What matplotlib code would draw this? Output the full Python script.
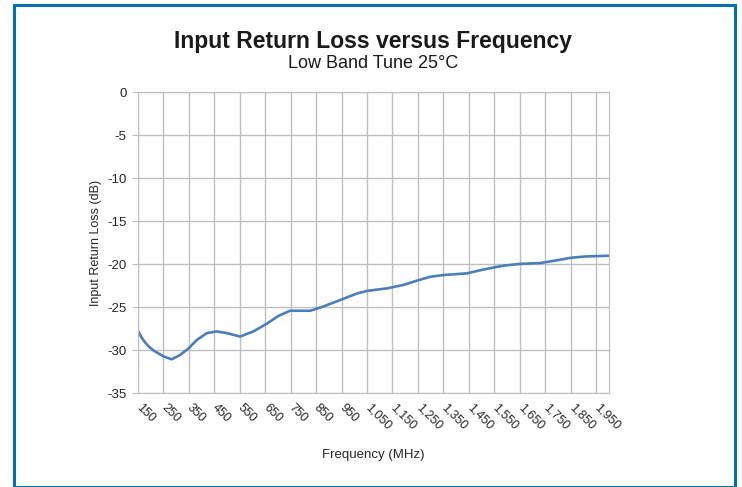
import matplotlib.pyplot as plt
from matplotlib.patches import Rectangle

plt.rcParams['font.family'] = ['Liberation Sans', 'DejaVu Sans']

# Frequency (MHz) and return loss (dB)
freq = [150, 165, 179, 195, 211, 251, 283, 316, 349, 382, 421, 460, 500, 552,
        604, 657, 702, 748, 827, 879, 945, 1010, 1049, 1099, 1128, 1193, 1246,
        1298, 1350, 1442, 1508, 1586, 1652, 1730, 1782, 1848, 1900, 2000]
rl_db = [-27.7, -28.5, -29.1, -29.6, -30.0, -30.7, -31.05, -30.55, -29.8, -28.8,
         -28.0, -27.8, -28.0, -28.4, -27.8, -26.9, -26.0, -25.4, -25.4, -24.9,
         -24.15, -23.4, -23.1, -22.9, -22.8, -22.4, -21.9, -21.45, -21.25,
         -21.05, -20.6, -20.15, -19.95, -19.85, -19.6, -19.25, -19.1, -19.0]

xticks = list(range(150, 2000, 100))
xticklabels = [f"{v:,}" for v in xticks]
yticks = list(range(-35, 1, 5))

fig = plt.figure(figsize=(7.42, 4.87), dpi=100)
ax = fig.add_axes([0.1856, 0.1924, 0.6352, 0.618])

ax.plot(freq, rl_db, color="#4A7EBB", lw=1.9, solid_capstyle="round")

ax.set_xlim(150, 2000)
ax.set_ylim(-35, 0)
ax.set_xticks(xticks)
ax.set_xticklabels(xticklabels, rotation=-45, ha="left", va="center",
                   rotation_mode="anchor", fontsize=9, color="#262626")
ax.set_yticks(yticks)
ax.set_yticklabels([str(v) for v in yticks], fontsize=9.5, color="#262626")
ax.tick_params(axis="x", length=0, pad=9)
ax.tick_params(axis="y", length=4, color="#BFBFBF", pad=4)
ax.grid(True, color="#BFBFBF", lw=1)
for s in ax.spines.values():
    s.set_color("#BFBFBF")

ax.set_xlabel("Frequency (MHz)", fontsize=9.5, labelpad=12, color="#262626")
ax.set_ylabel("Input Return Loss (dB)", fontsize=9, labelpad=4, color="#262626")

fig.text(0.503, 0.915, "Input Return Loss versus Frequency", ha="center",
         va="center", fontsize=16.5, fontweight="bold", color="#1a1a1a")
fig.text(0.503, 0.869, "Low Band Tune 25°C", ha="center", va="center",
         fontsize=13, color="#1a1a1a")

fig.patches.append(Rectangle((13.5 / 742, 0), (735 - 13.5) / 742, (487 - 4.5) / 487,
                             transform=fig.transFigure, fill=False,
                             edgecolor="#0070B0", lw=2.2))

fig.savefig("out.png", dpi=100)
